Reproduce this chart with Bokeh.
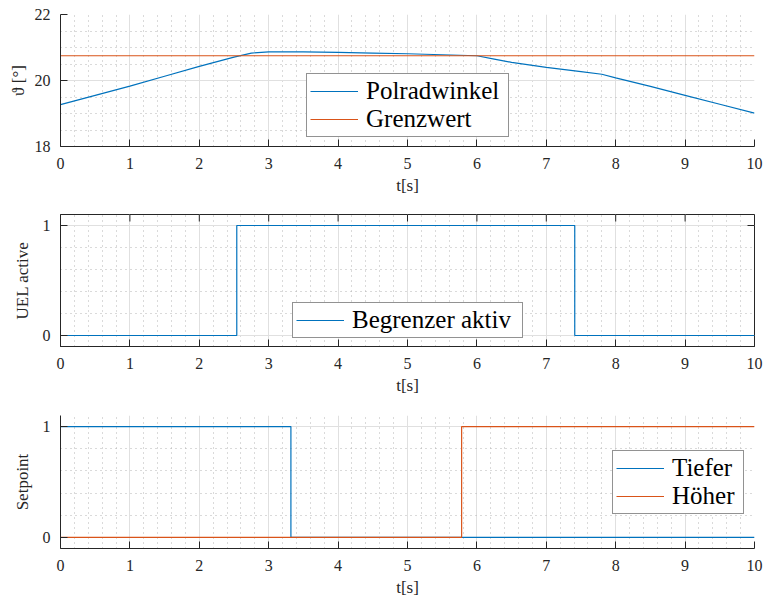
import numpy as np
from bokeh.plotting import figure
from bokeh.layouts import column
from bokeh.models import FixedTicker, Legend, LegendItem, Range1d
from bokeh.embed import file_html
from bokeh.resources import INLINE

# --- data -------------------------------------------------------------
# rotor (load) angle over time and its limit value
t_pol = [0, 0.5, 1, 1.5, 2, 2.5, 2.75, 3, 3.5, 4, 4.5, 5, 5.5, 6,
         6.25, 6.5, 7, 7.5, 7.8, 8, 8.5, 9, 9.5, 10]
polradwinkel = [19.27, 19.55, 19.83, 20.13, 20.43, 20.71, 20.83, 20.87,
                20.87, 20.85, 20.83, 20.81, 20.78, 20.75, 20.65, 20.55,
                20.40, 20.27, 20.19, 20.08, 19.82, 19.55, 19.28, 19.01]
t_grenz = [0, 10]
grenzwert = [20.75, 20.75]

# under-excitation limiter state (step, value holds until next time)
t_uel = [0, 2.54, 7.41, 10]
uel_active = [0, 1, 0, 0]

# setpoint selection signals
t_tiefer = [0, 3.32, 10]
tiefer = [1, 0, 0]
t_hoeher = [0, 5.78, 10]
hoeher = [0, 1, 1]

x_ticks = list(range(0, 11))
y1_ticks = [18, 20, 22]
y01_ticks = [0, 1]

# --- style ------------------------------------------------------------
BLUE = "#0072BD"
ORANGE = "#D95319"
AX = "#262626"
FONT = "Liberation Serif"
TICK_LEN = 7

x_minor = [round(v, 2) for v in np.arange(0, 10.001, 0.2) if abs(v - round(v)) > 1e-6]
y1_minor = [v for v in np.arange(18, 22.001, 0.5) if v not in y1_ticks]
y01_minor = [0.2, 0.4, 0.6, 0.8]


def make_fig(y_lo, y_hi, y_ticks, y_minor, ylabel, ylabel_standoff, border_top,
             frame_h, border_bottom, box=False):
    p = figure(frame_width=694, frame_height=frame_h,
               x_range=Range1d(0, 10), y_range=Range1d(y_lo, y_hi),
               output_backend="svg", toolbar_location=None,
               min_border_left=60, min_border_right=10,
               min_border_top=border_top, min_border_bottom=border_bottom,
               background_fill_color="white", border_fill_color="white")
    p.outline_line_color = AX if box else None
    xt = FixedTicker(ticks=x_ticks, minor_ticks=x_minor)
    yt = FixedTicker(ticks=y_ticks, minor_ticks=y_minor)
    p.xaxis.ticker = xt
    p.yaxis.ticker = yt
    p.xgrid.ticker = xt
    p.ygrid.ticker = yt
    for ax in (p.xaxis[0], p.yaxis[0]):
        ax.axis_line_color = AX
        ax.axis_line_width = 1
        ax.major_tick_line_color = AX
        ax.major_tick_in = TICK_LEN
        ax.major_tick_out = 0
        ax.minor_tick_line_color = None
        ax.major_label_text_font = FONT
        ax.major_label_text_font_size = "16px"
        ax.major_label_text_color = AX
        ax.axis_label_text_font = FONT
        ax.axis_label_text_font_size = "17px"
        ax.axis_label_text_font_style = "normal"
        ax.axis_label_text_color = AX
    p.xaxis.axis_label = "t[s]"
    p.xaxis.major_label_standoff = 7
    p.xaxis.axis_label_standoff = 4
    p.yaxis.axis_label = ylabel
    p.yaxis.major_label_standoff = 6
    p.yaxis.axis_label_standoff = ylabel_standoff
    for g in (p.xgrid[0], p.ygrid[0]):
        g.grid_line_color = "#e0e0e0"
        g.grid_line_width = 1
        g.minor_grid_line_color = "#b5b5b5"
        g.minor_grid_line_dash = "1 4"
        g.minor_grid_line_width = 1
    if box:
        # inward ticks on the top and right edges of the closed box
        p.ray(x=x_ticks, y=[y_hi] * len(x_ticks), length=TICK_LEN,
              length_units="screen", angle=-np.pi / 2, line_color=AX,
              line_width=1)
        p.ray(x=[10] * len(y_ticks), y=y_ticks, length=TICK_LEN,
              length_units="screen", angle=np.pi, line_color=AX,
              line_width=1)
    return p


def make_legend(items, x, y, label_width):
    lg = Legend(items=items, location=(x, y), margin=0, padding=3, spacing=0,
                glyph_width=48, glyph_height=24, label_height=24,
                label_width=label_width,
                label_standoff=8, border_line_color=AX, border_line_width=1,
                background_fill_color="white", background_fill_alpha=1,
                label_text_font=FONT, label_text_font_size="25px",
                label_text_color="black")
    return lg


# --- rotor angle ------------------------------------------------------
p1 = make_fig(18, 22, y1_ticks, y1_minor, "ϑ [°]", 4, 14, 132, 54)
r_pol = p1.line(t_pol, polradwinkel, line_color=BLUE, line_width=1.2)
r_gr = p1.line(t_grenz, grenzwert, line_color=ORANGE, line_width=1.2)
p1.add_layout(make_legend([LegendItem(label="Polradwinkel", renderers=[r_pol]),
                           LegendItem(label="Grenzwert", renderers=[r_gr])],
                          246, 9, 139))

# --- limiter state ----------------------------------------------------
p2 = make_fig(-0.1, 1.1, y01_ticks, y01_minor, "UEL active", 8,
              14, 132, 54, box=True)
r_uel = p2.step(t_uel, uel_active, mode="after", line_color=BLUE, line_width=1.2)
p2.add_layout(make_legend([LegendItem(label="Begrenzer aktiv", renderers=[r_uel])],
                          232, 8, 167))

# --- setpoint ---------------------------------------------------------
p3 = make_fig(-0.1, 1.1, y01_ticks, y01_minor, "Setpoint", 8,
              15, 133, 51)
r_t = p3.step(t_tiefer, tiefer, mode="after", line_color=BLUE, line_width=1.2)
r_h = p3.step(t_hoeher, hoeher, mode="after", line_color=ORANGE, line_width=1.2)
p3.add_layout(make_legend([LegendItem(label="Tiefer", renderers=[r_t]),
                           LegendItem(label="Höher", renderers=[r_h])],
                          552, 34, 68))

layout = column(p1, p2, p3, spacing=0)
open("out.html", "w").write(file_html(layout, INLINE))
